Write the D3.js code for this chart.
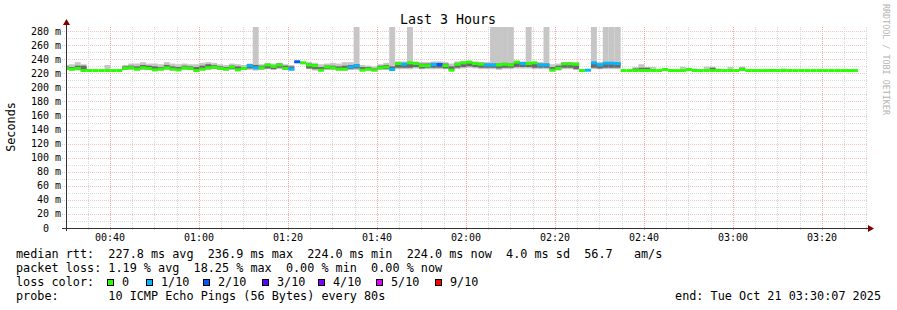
<!DOCTYPE html>
<html>
<head>
<meta charset="utf-8">
<script src="https://cdn.jsdelivr.net/npm/d3@7"></script>
<style>
body { margin: 0; background: #fff; }
text { font-family: "DejaVu Sans Mono", monospace; fill: #000; white-space: pre; }
</style>
</head>
<body>
<script>
// smokeping: 10 pings every 80s, last 3 hours
const graphStart = new Date(2025, 9, 21, 0, 30, 7)
const graphEnd = new Date(2025, 9, 21, 3, 30, 7)
const firstSample = new Date(2025, 9, 21, 0, 29, 25)
const stepSec = 80

const medianRtt = [
    227, 226, 227, 224, 224, 224, 224, 224, 224, 224,
    227, 228, 226, 228, 227, 225, 226, 228, 226, 225,
    228, 227, 224, 226, 228, 229, 227, 226, 229, 225,
    227, 231, 228, 228, 232, 230, 232, 227, 226, 236.5,
    235, 232, 231, 224.5, 229, 228, 226, 226, 229, 231,
    224.5, 226, 224.5, 228, 229, 225.5, 234, 233, 235, 234,
    231, 231, 232.5, 232.5, 231, 224.5, 233, 235, 236, 234,
    233, 232, 232, 232, 233, 232, 236, 234, 234, 235,
    232, 232, 224.5, 227, 233.5, 233.5, 233, 224, 224.5, 235,
    232, 234.5, 234.5, 234, 224, 224, 224, 224, 224, 224,
    224, 225.5, 224, 224, 224, 225.5, 224, 224, 224, 224,
    224, 224, 224, 224, 225.5, 224, 224, 224, 224, 224,
    224, 224, 224, 224, 224, 224, 224, 224, 224, 224,
    224, 224, 224, 224
]

const lossCount = [
    0, 0, 0, 0, 0, 0, 0, 0, 0, 0,
    0, 0, 0, 0, 0, 0, 0, 0, 0, 0,
    0, 0, 0, 0, 0, 0, 0, 0, 0, 0,
    0, 1, 1, 0, 0, 0, 0, 0, 1, 2,
    0, 0, 0, 0, 0, 0, 0, 0, 1, 1,
    0, 0, 0, 0, 0, 1, 0, 1, 0, 0,
    0, 0, 1, 2, 0, 0, 0, 0, 0, 0,
    0, 1, 1, 0, 0, 0, 0, 1, 0, 0,
    1, 1, 0, 0, 0, 0, 0, 0, 1, 1,
    1, 1, 1, 1, 0, 0, 0, 0, 0, 0,
    0, 0, 0, 0, 0, 0, 0, 0, 0, 0,
    0, 0, 0, 0, 0, 0, 0, 0, 0, 0,
    0, 0, 0, 0, 0, 0, 0, 0, 0, 0,
    0, 0, 0, 0
]

// fastest / slowest ping of each round
const smokeLo = [
    225, 224, 224, 224, 224, 224, 224, 224, 224, 224,
    225, 225, 224, 225, 225, 224, 224, 225, 224, 224,
    225, 225, 224, 224, 225, 226, 225, 224, 225, 224,
    225, 225, 224, 225, 226, 225, 226, 225, 224, 235,
    233, 226, 224, 224, 225, 225, 224, 224, 225, 225,
    224, 224, 224, 225, 225, 224, 226, 226, 226, 227,
    226, 226, 226, 226, 226, 224, 226, 227, 228, 227,
    226, 226, 226, 225, 226, 226, 227, 227, 227, 226,
    226, 226, 224, 224, 226, 226, 225, 224, 224, 226,
    226, 226, 226, 226, 224, 224, 224, 224, 224, 224,
    224, 224, 224, 224, 224, 224, 224, 224, 224, 224,
    224, 224, 224, 224, 224, 224, 224, 224, 224, 224,
    224, 224, 224, 224, 224, 224, 224, 224, 224, 224,
    224, 224, 224, 224
]

const smokeHi = [
    232, 233, 236, 233, 224, 224, 224, 232, 224, 226,
    232, 234, 234, 236, 234, 234, 233, 236, 234, 233,
    234, 233, 233, 235, 236, 235, 233, 232, 234, 233,
    232, 234, 300, 233, 235, 234, 235, 233, 232, 237,
    237, 236, 235, 233, 234, 235, 234, 236, 236, 300,
    232, 231, 230, 233, 235, 300, 237, 237, 300, 237,
    236, 236, 237, 237, 236, 234, 237, 238, 238, 237,
    236, 236, 300, 300, 300, 300, 238, 237, 300, 236,
    236, 300, 233, 234, 236, 236, 236, 226, 226, 300,
    236, 300, 300, 300, 224, 225, 229, 233, 229, 229,
    224, 226, 224, 224, 229.5, 228, 227, 224, 229.5, 229.5,
    227, 224, 229, 224, 229.5, 224, 224, 224, 224, 226,
    224, 227, 224, 224, 224, 224, 224, 224, 224, 224,
    224, 224, 224, 224
]

// middle pings of each round (darker smoke)
const smokeInLo = [
    226, 225, 225, 224, 224, 224, 224, 224, 224, 224,
    226, 226, 225, 226, 226, 225, 225, 226, 225, 225,
    226, 226, 224, 225, 226, 227, 226, 225, 226, 225,
    225, 227, 226, 226, 227, 226, 228, 226, 225, 235,
    234, 227, 226, 225, 226, 226, 225, 225, 226, 227,
    225, 225, 224, 226, 226, 225, 228, 228, 228, 229,
    227, 228, 228, 228, 227, 225, 228, 229, 230, 229,
    228, 228, 228, 227, 228, 228, 229, 229, 229, 228,
    228, 228, 225, 225, 228, 228, 226, 224, 224, 228,
    227, 228, 228, 228, 224, 224, 224, 224, 224, 224,
    224, 224, 224, 224, 224, 224, 224, 224, 224, 224,
    224, 224, 224, 224, 224, 224, 224, 224, 224, 224,
    224, 224, 224, 224, 224, 224, 224, 224, 224, 224,
    224, 224, 224, 224
]

const smokeInHi = [
    230, 229, 231, 231, 224, 224, 224, 224, 224, 224,
    230, 231, 230, 232, 231, 230, 229, 232, 230, 229,
    231, 230, 229, 231, 233, 232, 230, 229, 231, 230,
    229, 233, 232, 231, 233, 232, 234, 231, 230, 237,
    236, 234, 233, 229, 231, 231, 230, 231, 232, 233,
    229, 229, 227, 231, 232, 230, 235, 235, 235, 235,
    234, 234, 235, 235, 234, 230, 235, 236, 237, 236,
    235, 234, 234, 234, 235, 234, 237, 236, 236, 234,
    234, 234, 229, 231, 235, 235, 234, 225, 225, 236,
    234, 236, 236, 235, 224, 224, 227, 228, 228, 226,
    224, 224, 224, 224, 224, 225, 226, 224, 224, 228,
    226, 224, 224, 224, 228, 224, 224, 224, 224, 226,
    224, 224, 224, 224, 224, 224, 224, 224, 224, 224,
    224, 224, 224, 224
]

const lossLabels = ["0", "1/10", "2/10", "3/10", "4/10", "5/10", "9/10"]
const lossColors = ["#26ff00", "#00b8ff", "#0059ff", "#5e00ff", "#7e00ff", "#dd00ff", "#ff0000"]
const lossSteps = [0, 1, 2, 3, 4, 5, 9]
const lossKeyX = [107, 146, 203, 262, 318, 376, 435]

const legendLines = [
    "median rtt:  227.8 ms avg  236.9 ms max  224.0 ms min  224.0 ms now  4.0 ms sd  56.7   am/s",
    "packet loss: 1.19 % avg  18.25 % max  0.00 % min  0.00 % now"
]
const probeText = "probe:       10 ICMP Echo Pings (56 Bytes) every 80s"
const endText = "end: Tue Oct 21 03:30:07 2025"

const W = 897, H = 310
const plotLeft = 66, plotRight = 867, plotTop = 27, plotBottom = 228

var svg = d3.select("body").append("svg").attr("width", W).attr("height", H)

const x = d3.scaleTime().domain([graphStart, graphEnd]).range([plotLeft, plotRight])
const y = d3.scaleLinear().domain([0, 286]).range([plotBottom, plotTop])

function lossColor(n) {
    let k = 0
    lossSteps.forEach((s, i) => { if (n >= s) k = i })
    return lossColors[k]
}

// grid
const minorY = d3.range(10, 281, 10)
const minorT = d3.timeMinute.every(5).range(graphStart, graphEnd)
const majorT = d3.timeMinute.every(20).range(graphStart, graphEnd)

var grid = svg.append("g")
grid.selectAll("line.hmin")
    .data(minorY)
    .enter()
    .append("line")
    .attr("x1", plotLeft - 4).attr("x2", plotRight)
    .attr("y1", v => Math.round(y(v)) + 0.5).attr("y2", v => Math.round(y(v)) + 0.5)
    .attr("stroke", v => v % 20 == 0 ? "#f3c3c3" : "#dcdcdc")
    .attr("stroke-dasharray", "1,1")
grid.selectAll("line.vmin")
    .data(minorT)
    .enter()
    .append("line")
    .attr("x1", t => Math.round(x(t)) + 0.5).attr("x2", t => Math.round(x(t)) + 0.5)
    .attr("y1", plotTop).attr("y2", plotBottom + 3)
    .attr("stroke", t => t.getMinutes() % 20 == 0 ? "#f0a8a8" : "#d8d8d8")
    .attr("stroke-dasharray", "1,1")

// data
var samples = medianRtt.map((m, i) => {
    let t = new Date(firstSample.getTime() + i * stepSec * 1000)
    return {
        t0: t,
        t1: new Date(t.getTime() + stepSec * 1000),
        median: m,
        loss: lossCount[i],
        lo: smokeLo[i], hi: smokeHi[i],
        inLo: smokeInLo[i], inHi: smokeInHi[i]
    }
})

svg.append("clipPath").attr("id", "plot")
    .append("rect").attr("x", plotLeft).attr("y", plotTop)
    .attr("width", plotRight - plotLeft).attr("height", plotBottom - plotTop)

var data = svg.append("g").attr("clip-path", "url(#plot)")

data.selectAll("rect.smoke")
    .data(samples.filter(d => d.hi > d.lo))
    .enter()
    .append("rect")
    .attr("x", d => x(d.t0))
    .attr("width", d => x(d.t1) - x(d.t0))
    .attr("y", d => y(d.hi))
    .attr("height", d => y(d.lo) - y(d.hi))
    .attr("fill", "#c6c6c6")

data.selectAll("rect.core")
    .data(samples.filter(d => d.inHi > d.inLo))
    .enter()
    .append("rect")
    .attr("x", d => x(d.t0))
    .attr("width", d => x(d.t1) - x(d.t0))
    .attr("y", d => y(d.inHi))
    .attr("height", d => y(d.inLo) - y(d.inHi))
    .attr("fill", "#6a6a6a")

data.selectAll("rect.median")
    .data(samples)
    .enter()
    .append("rect")
    .attr("x", d => x(d.t0))
    .attr("width", d => x(d.t1) - x(d.t0))
    .attr("y", d => y(d.median) - 1.5)
    .attr("height", 3)
    .attr("fill", d => lossColor(d.loss))

// axes
var axes = svg.append("g")
axes.append("line").attr("x1", plotLeft - 4).attr("x2", plotRight + 2)
    .attr("y1", plotBottom + 0.5).attr("y2", plotBottom + 0.5).attr("stroke", "#333")
axes.append("line").attr("x1", plotLeft + 0.5).attr("x2", plotLeft + 0.5)
    .attr("y1", plotBottom + 3).attr("y2", plotTop - 3).attr("stroke", "#333")
axes.append("path")
    .attr("d", `M${plotRight + 1},${plotBottom - 3}L${plotRight + 7},${plotBottom + 0.5}L${plotRight + 1},${plotBottom + 4}Z`)
    .attr("fill", "#7f0000")
axes.append("path")
    .attr("d", `M${plotLeft - 3},${plotTop - 2}L${plotLeft + 0.5},${plotTop - 8}L${plotLeft + 4},${plotTop - 2}Z`)
    .attr("fill", "#7f0000")

svg.append("g").selectAll("text")
    .data(d3.range(0, 281, 20))
    .enter()
    .append("text")
    .attr("x", plotLeft - 5)
    .attr("y", v => y(v) + 3.5)
    .attr("text-anchor", "end")
    .attr("font-size", "10px")
    .text(v => v == 0 ? "0  " : v + " m")

svg.append("g").selectAll("text")
    .data(majorT.filter(t => x(t) > plotLeft + 10))
    .enter()
    .append("text")
    .attr("x", t => x(t))
    .attr("y", plotBottom + 13)
    .attr("text-anchor", "middle")
    .attr("font-size", "10px")
    .text(d3.timeFormat("%H:%M"))

// labels
svg.append("text").attr("x", 448).attr("y", 24).attr("text-anchor", "middle")
    .attr("font-size", "13.3px").text("Last 3 Hours")
svg.append("text").attr("transform", "translate(15,127) rotate(-90)")
    .attr("text-anchor", "middle").attr("font-size", "11.8px").text("Seconds")
svg.append("text").attr("transform", "translate(883,4) rotate(90)")
    .attr("font-size", "8.4px").style("fill", "#b4b4b4").text("RRDTOOL / TOBI OETIKER")

var legend = svg.append("g").attr("font-size", "11.8px")
legend.selectAll("text.line")
    .data(legendLines)
    .enter()
    .append("text")
    .attr("x", 16)
    .attr("y", (d, i) => 258 + i * 14)
    .text(d => d)
legend.append("text").attr("x", 16).attr("y", 286).text("loss color:")
legend.selectAll("rect.key")
    .data(lossLabels)
    .enter()
    .append("rect")
    .attr("x", (d, i) => lossKeyX[i] + 0.5)
    .attr("y", 279.5)
    .attr("width", 6).attr("height", 6)
    .attr("fill", (d, i) => lossColors[i])
    .attr("stroke", "#000")
legend.selectAll("text.key")
    .data(lossLabels)
    .enter()
    .append("text")
    .attr("x", (d, i) => lossKeyX[i] + 15)
    .attr("y", 286)
    .text(d => d)
legend.append("text").attr("x", 16).attr("y", 300).text(probeText)
legend.append("text").attr("x", 881).attr("y", 300).attr("text-anchor", "end").text(endText)
</script>
</body>
</html>
